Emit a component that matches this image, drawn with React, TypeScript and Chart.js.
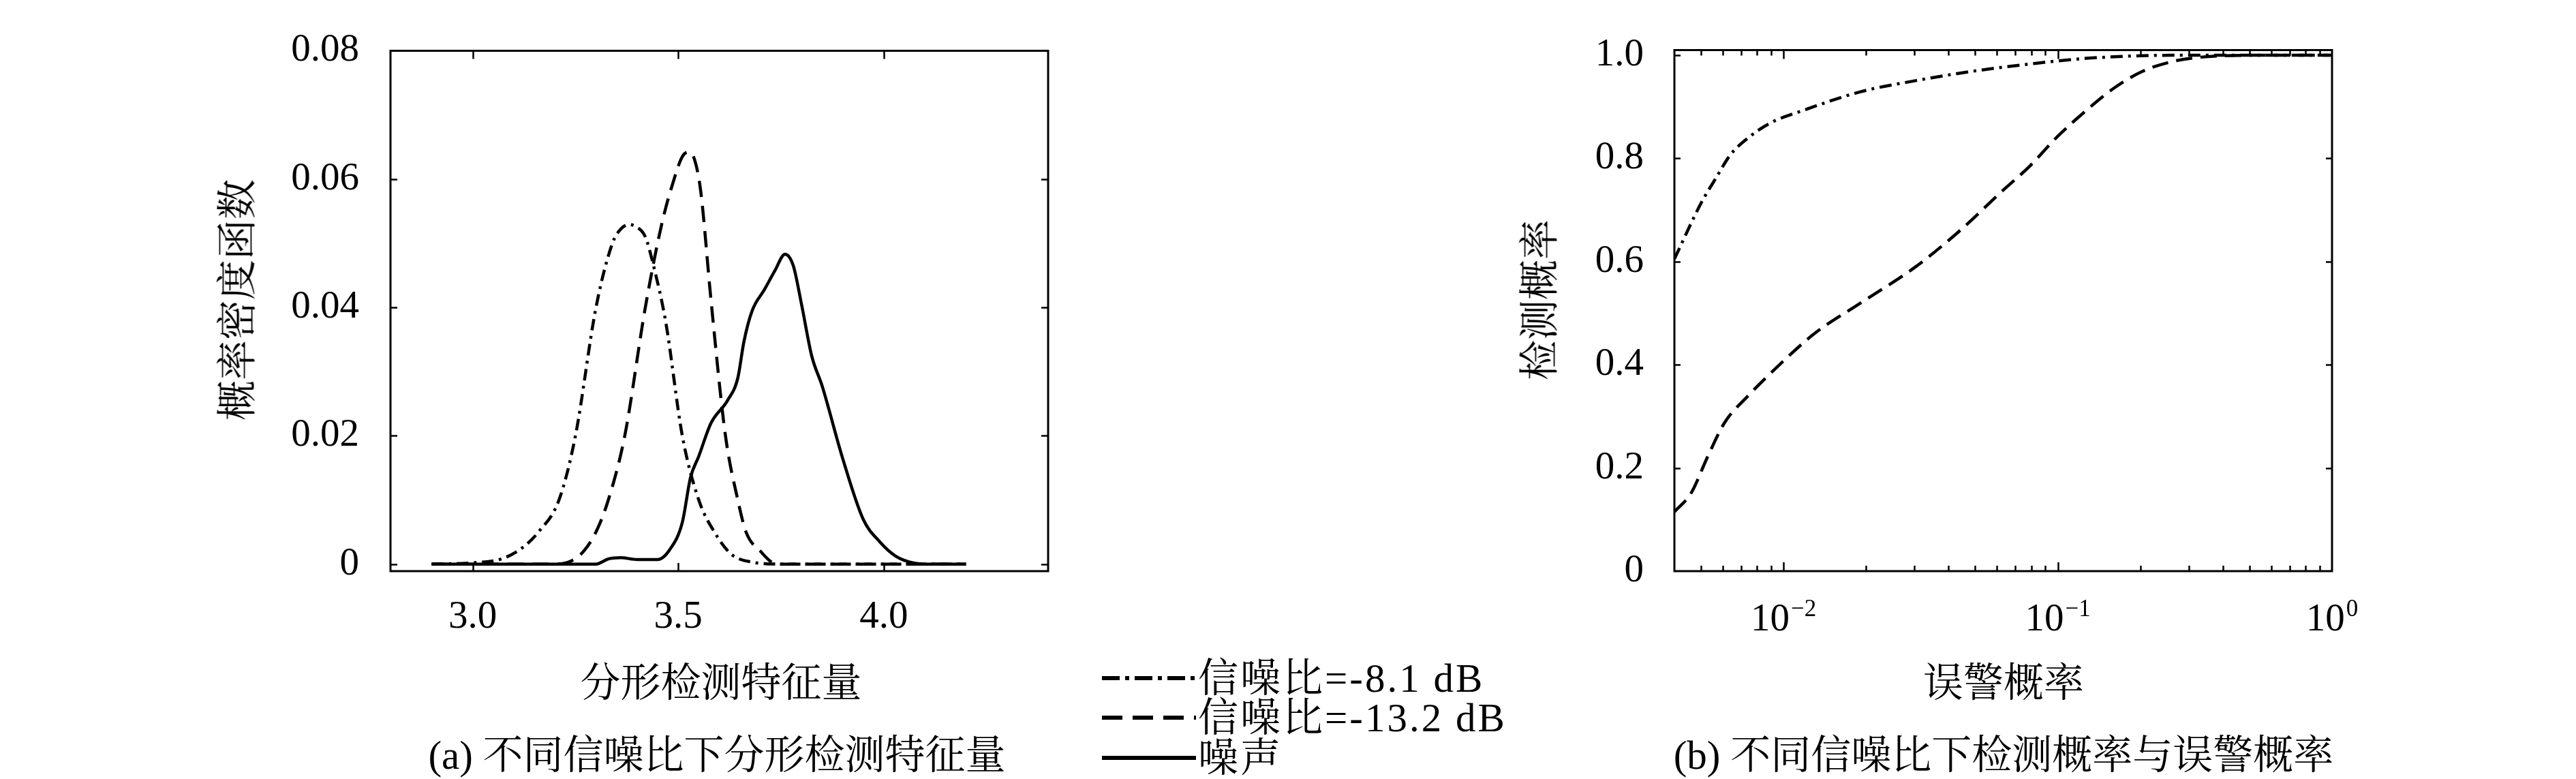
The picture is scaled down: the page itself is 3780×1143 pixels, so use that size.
import React, { useEffect, useRef } from 'react';
import { Chart, registerables } from 'chart.js';

Chart.register(...registerables);

// ---------- Panel (a): PDF of fractal detection feature ----------
const pdfX_snr81 = [2.9, 3.0, 3.07, 3.12, 3.16, 3.21, 3.25, 3.30, 3.34, 3.36, 3.38, 3.40, 3.42, 3.44, 3.47, 3.51, 3.55, 3.59, 3.63, 3.68, 3.75, 4.2];
const pdfY_snr81 = [0, 0.0002, 0.0008, 0.0025, 0.005, 0.010, 0.020, 0.040, 0.050, 0.0522, 0.0529, 0.0525, 0.051, 0.0465, 0.0376, 0.020, 0.010, 0.0048, 0.0015, 0.0003, 0, 0];

const pdfX_snr132 = [2.9, 3.2, 3.24, 3.27, 3.30, 3.33, 3.37, 3.42, 3.46, 3.49, 3.51, 3.525, 3.54, 3.555, 3.58, 3.615, 3.645, 3.665, 3.70, 3.74, 4.2];
const pdfY_snr132 = [0, 0, 0.0005, 0.002, 0.005, 0.010, 0.020, 0.040, 0.053, 0.060, 0.0635, 0.0642, 0.063, 0.058, 0.041, 0.020, 0.010, 0.005, 0.002, 0, 0];

const pdfX_noise = [2.9, 3.3, 3.33, 3.36, 3.40, 3.45, 3.48, 3.51, 3.53, 3.55, 3.58, 3.62, 3.645, 3.66, 3.68, 3.71, 3.735, 3.76, 3.78, 3.80, 3.825, 3.85, 3.90, 3.95, 3.99, 4.03, 4.07, 4.1, 4.2];
const pdfY_noise = [0, 0, 0.0008, 0.001, 0.0007, 0.0007, 0.0023, 0.0065, 0.0135, 0.0168, 0.022, 0.0255, 0.029, 0.0347, 0.0395, 0.0428, 0.0457, 0.0483, 0.0465, 0.0405, 0.0324, 0.0278, 0.0165, 0.007, 0.0035, 0.0012, 0.0002, 0, 0];

const pdfXTicks = [3.0, 3.5, 4.0];
const pdfYTicks = [0, 0.02, 0.04, 0.06, 0.08];

// ---------- Panel (b): ROC (detection vs false alarm probability) ----------
const rocX_snr81 = [0.004, 0.005, 0.0057, 0.0064, 0.0074, 0.0089, 0.0118, 0.019, 0.0305, 0.049, 0.079, 0.127, 0.26, 1];
const rocY_snr81 = [0.605, 0.713, 0.764, 0.807, 0.839, 0.868, 0.893, 0.929, 0.951, 0.969, 0.983, 0.994, 1.0, 1.0];

const rocX_snr132 = [0.004, 0.0046, 0.0053, 0.0061, 0.0074, 0.0098, 0.013, 0.019, 0.0305, 0.0446, 0.0622, 0.079, 0.1, 0.127, 0.161, 0.204, 0.258, 0.327, 0.53, 1];
const rocY_snr132 = [0.115, 0.151, 0.223, 0.288, 0.339, 0.403, 0.461, 0.519, 0.591, 0.663, 0.735, 0.785, 0.843, 0.893, 0.937, 0.969, 0.987, 0.996, 1.0, 1.0];

const rocXMajor = [0.01, 0.1, 1];
const rocXMinor = [0.004, 0.005, 0.006, 0.007, 0.008, 0.009, 0.02, 0.03, 0.04, 0.05, 0.06, 0.07, 0.08, 0.09, 0.2, 0.3, 0.4, 0.5, 0.6, 0.7, 0.8, 0.9];
const rocYTicks = [0, 0.2, 0.4, 0.6, 0.8, 1.0];

// ---------- Text ----------
const seriesLabels = ['信噪比=-8.1 dB', '信噪比=-13.2 dB', '噪声'];
const titleA = { x: '分形检测特征量', y: '概率密度函数', caption: '(a) 不同信噪比下分形检测特征量' };
const titleB = { x: '误警概率', y: '检测概率', caption: '(b) 不同信噪比下检测概率与误警概率' };

const NUM_FONT = '"Liberation Serif", "Times New Roman", serif';
const TEXT_FONT = '"Liberation Serif", "Noto Serif CJK SC", "Noto Sans CJK SC", serif';
const TEXT_SIZE = 59;

const zip = (xs: number[], ys: number[]) => xs.map((x, i) => ({ x, y: ys[i] }));

const frameTicksPlugin = {
  id: 'frameTicks',
  afterDatasetsDraw(chart: any, _args: any, opts: any) {
    const { ctx, chartArea } = chart;
    const { left, right, top, bottom } = chartArea;
    const xs = chart.scales.x;
    const ys = chart.scales.y;
    ctx.save();
    ctx.strokeStyle = '#000';
    ctx.lineCap = 'butt';
    ctx.setLineDash([]);
    ctx.lineWidth = opts.tickWidth || 2;
    ctx.beginPath();
    xs.ticks.forEach((t: any) => {
      const px = Math.round(xs.getPixelForValue(t.value)) + 0.5;
      if (px < left + 2 || px > right - 2) return;
      const len = opts.log ? (t.major ? opts.majorLen : opts.minorLen) : opts.majorLen;
      ctx.moveTo(px, bottom);
      ctx.lineTo(px, bottom - len);
      ctx.moveTo(px, top);
      ctx.lineTo(px, top + len);
    });
    ys.ticks.forEach((t: any) => {
      const py = Math.round(ys.getPixelForValue(t.value)) + 0.5;
      if (py > bottom - 2 || py < top + 2) return;
      ctx.moveTo(left, py);
      ctx.lineTo(left + opts.yLen, py);
      ctx.moveTo(right, py);
      ctx.lineTo(right - opts.yLen, py);
    });
    ctx.stroke();
    ctx.lineWidth = opts.frameWidth || 2.5;
    ctx.strokeRect(left, top, right - left, bottom - top);
    if (opts.log) {
      ctx.fillStyle = '#000';
      ctx.textAlign = 'left';
      ctx.textBaseline = 'alphabetic';
      const baseY = bottom + opts.labelOffset;
      xs.ticks.forEach((t: any) => {
        if (!t.major) return;
        const px = xs.getPixelForValue(t.value);
        const exp = Math.round(Math.log10(t.value));
        const base = '10';
        const sup = exp < 0 ? '\u2212' + String(-exp) : String(exp);
        ctx.font = `57px ${NUM_FONT}`;
        const wb = ctx.measureText(base).width;
        ctx.font = `35px ${NUM_FONT}`;
        const ws = ctx.measureText(sup).width;
        const x0 = px - (wb + ws + 2) / 2;
        ctx.font = `57px ${NUM_FONT}`;
        ctx.fillText(base, x0, baseY);
        ctx.font = `35px ${NUM_FONT}`;
        ctx.fillText(sup, x0 + wb + 2, baseY - 21);
      });
    }
    ctx.restore();
  },
};

const lineDs = (label: string, data: any[], dash: number[]) => ({
  label,
  data,
  borderColor: '#000',
  backgroundColor: '#000',
  borderWidth: 4.5,
  borderDash: dash,
  pointRadius: 0,
  fill: false,
  cubicInterpolationMode: 'monotone' as const,
});

const tickFont = { family: NUM_FONT, size: 57, lineHeight: 1 };

function makePdfConfig(): any {
  return {
    type: 'line',
    data: {
      datasets: [
        lineDs(seriesLabels[0], zip(pdfX_snr81, pdfY_snr81), [17, 8, 4, 8]),
        lineDs(seriesLabels[1], zip(pdfX_snr132, pdfY_snr132), [24, 13]),
        lineDs(seriesLabels[2], zip(pdfX_noise, pdfY_noise), []),
      ],
    },
    options: {
      animation: false,
      responsive: false,
      devicePixelRatio: 1,
      layout: { padding: { top: 33, right: 62, bottom: 0, left: 0 } },
      plugins: {
        legend: { display: false },
        tooltip: { enabled: false },
        frameTicks: { majorLen: 12, minorLen: 7, yLen: 10, tickWidth: 2.5, frameWidth: 3, log: false },
      },
      scales: {
        x: {
          type: 'linear',
          min: 2.8,
          max: 4.4,
          grid: { display: false, drawTicks: false },
          border: { display: false },
          ticks: {
            font: tickFont,
            color: '#000',
            padding: 40,
            maxRotation: 0,
            autoSkip: false,
            callback: (v: any) => Number(v).toFixed(1),
          },
          afterBuildTicks: (s: any) => {
            s.ticks = pdfXTicks.map((v) => ({ value: v }));
          },
          afterFit: (s: any) => {
            s.height = 305;
          },
        },
        y: {
          type: 'linear',
          min: -0.0011,
          max: 0.08,
          grid: { display: false, drawTicks: false },
          border: { display: false },
          ticks: {
            font: tickFont,
            color: '#000',
            padding: 46,
            autoSkip: false,
            callback: (v: any) => (Number(v) === 0 ? '0' : Number(v).toFixed(2)),
          },
          afterBuildTicks: (s: any) => {
            s.ticks = pdfYTicks.map((v) => ({ value: v }));
          },
          afterFit: (s: any) => {
            s.width = 573;
          },
        },
      },
    },
    plugins: [frameTicksPlugin],
  };
}

function makeRocConfig(): any {
  return {
    type: 'line',
    data: {
      datasets: [
        lineDs(seriesLabels[0], zip(rocX_snr81, rocY_snr81), [18, 8, 4, 8]),
        lineDs(seriesLabels[1], zip(rocX_snr132, rocY_snr132), [24, 12]),
      ],
    },
    options: {
      animation: false,
      responsive: false,
      devicePixelRatio: 1,
      layout: { padding: { top: 33, right: 78, bottom: 0, left: 0 } },
      plugins: {
        legend: { display: false },
        tooltip: { enabled: false },
        frameTicks: { majorLen: 13, minorLen: 8, yLen: 9, tickWidth: 2.5, frameWidth: 3, log: true, labelOffset: 87 },
      },
      scales: {
        x: {
          type: 'logarithmic',
          min: 0.004,
          max: 1,
          grid: { display: false, drawTicks: false },
          border: { display: false },
          ticks: { display: false },
          afterBuildTicks: (s: any) => {
            const t = [
              ...rocXMinor.map((v) => ({ value: v, major: false })),
              ...rocXMajor.map((v) => ({ value: v, major: true })),
            ];
            t.sort((a, b) => a.value - b.value);
            s.ticks = t;
          },
          afterFit: (s: any) => {
            s.height = 305;
          },
        },
        y: {
          type: 'linear',
          min: 0,
          max: 1.01,
          grid: { display: false, drawTicks: false },
          border: { display: false },
          ticks: {
            font: tickFont,
            color: '#000',
            padding: 45,
            autoSkip: false,
            callback: (v: any) => (Number(v) === 0 ? '0' : Number(v).toFixed(1)),
          },
          afterBuildTicks: (s: any) => {
            s.ticks = rocYTicks.map((v) => ({ value: v }));
          },
          afterFit: (s: any) => {
            s.width = 357;
          },
        },
      },
    },
    plugins: [frameTicksPlugin],
  };
}

function ChartCanvas({ makeConfig, left, width, height }: { makeConfig: () => any; left: number; width: number; height: number }) {
  const ref = useRef<HTMLCanvasElement | null>(null);
  useEffect(() => {
    if (!ref.current) return;
    const chart = new Chart(ref.current, makeConfig());
    return () => chart.destroy();
  }, []);
  return (
    <canvas
      ref={ref}
      width={width}
      height={height}
      style={{ position: 'absolute', left, top: 0, width, height }}
    />
  );
}

const txt = (x: number, y: number, size: number, rotate = false): React.CSSProperties => ({
  position: 'absolute',
  left: x,
  top: y,
  transform: `translate(-50%, -50%)${rotate ? ' rotate(-90deg)' : ''}`,
  fontSize: size,
  fontFamily: TEXT_FONT,
  whiteSpace: 'nowrap',
  lineHeight: 1,
  color: '#000',
});

function LegendRow({ y, dash, label }: { y: number; dash: string; label: string }) {
  return (
    <div
      style={{
        position: 'absolute',
        left: 1617,
        top: y - 32,
        height: 64,
        display: 'flex',
        alignItems: 'center',
        fontFamily: TEXT_FONT,
        fontSize: TEXT_SIZE,
        lineHeight: 1,
        letterSpacing: 3,
        whiteSpace: 'nowrap',
        color: '#000',
      }}
    >
      <svg width={138} height={10} style={{ display: 'block', marginRight: 3 }}>
        <line x1={0} y1={5} x2={138} y2={5} stroke="#000" strokeWidth={6} strokeDasharray={dash} />
      </svg>
      <span>{label}</span>
    </div>
  );
}

export default function App() {
  return (
    <div style={{ position: 'absolute', left: 0, top: 0, width: 3780, height: 1143, background: '#fff', overflow: 'hidden' }}>
      <ChartCanvas makeConfig={makePdfConfig} left={0} width={1600} height={1143} />
      <ChartCanvas makeConfig={makeRocConfig} left={2100} width={1400} height={1143} />

      <div style={txt(349, 440, TEXT_SIZE, true)}>{titleA.y}</div>
      <div style={txt(1058, 1002, TEXT_SIZE)}>{titleA.x}</div>
      <div style={txt(1052, 1108, TEXT_SIZE)}>{titleA.caption}</div>

      <LegendRow y={995} dash="26 8 6 8" label={seriesLabels[0]} />
      <LegendRow y={1053} dash="30 15" label={seriesLabels[1]} />
      <LegendRow y={1112} dash="" label={seriesLabels[2]} />

      <div style={txt(2260, 440, TEXT_SIZE, true)}>{titleB.y}</div>
      <div style={txt(2940, 1002, TEXT_SIZE)}>{titleB.x}</div>
      <div style={txt(2940, 1108, TEXT_SIZE)}>{titleB.caption}</div>
    </div>
  );
}
